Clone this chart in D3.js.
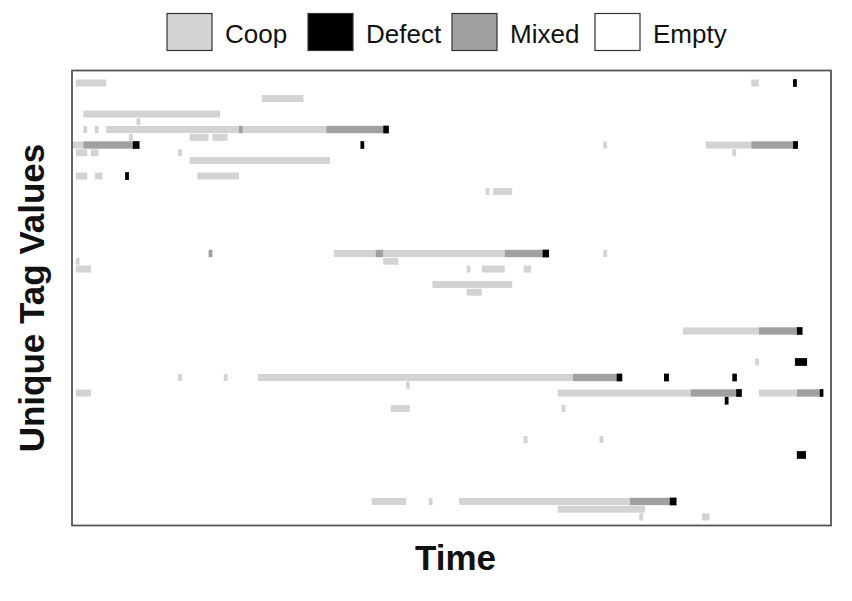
<!DOCTYPE html>
<html>
<head>
<meta charset="utf-8">
<script src="https://cdn.jsdelivr.net/npm/d3@7"></script>
<style>
  html, body { margin: 0; padding: 0; background: #fff; }
  svg { display: block; font-family: "Liberation Sans", Arial, sans-serif; }
</style>
</head>
<body>
<svg id="chart" width="852" height="601"></svg>
<script>
// ---- Data (tag row index, start time, end time) ----
const legendLabels = ["Coop", "Defect", "Mixed", "Empty"];
const stateColors = ["#d3d3d3", "#000000", "#a0a0a0", "#ffffff"];

const coopSegments = [
  [1, 1, 9], [1, 179, 181],
  [3, 50, 61],
  [5, 3, 39],
  [6, 17, 18],
  [7, 3, 4], [7, 6, 7], [7, 9, 44], [7, 45, 67],
  [8, 15, 16], [8, 31, 36], [8, 37, 41],
  [9, 0, 3], [9, 140, 141], [9, 167, 179],
  [10, 1, 4], [10, 5, 7], [10, 28, 29], [10, 174, 175],
  [11, 31, 68],
  [13, 1, 4], [13, 6, 8], [13, 33, 44],
  [15, 109, 110], [15, 111, 116],
  [23, 69, 80], [23, 82, 114], [23, 140, 141],
  [24, 1, 2], [24, 82, 86],
  [25, 1, 5], [25, 104, 105], [25, 108, 114], [25, 119, 121],
  [27, 95, 116],
  [28, 104, 108],
  [33, 161, 181],
  [37, 180, 181],
  [39, 28, 29], [39, 40, 41], [39, 49, 132],
  [40, 88, 89],
  [41, 1, 5], [41, 128, 163], [41, 181, 191],
  [43, 84, 89], [43, 129, 130],
  [47, 119, 120], [47, 139, 140],
  [55, 79, 88], [55, 94, 95], [55, 102, 147],
  [56, 128, 151],
  [57, 149.5, 150.5], [57, 166, 168]
];

const mixedSegments = [
  [7, 44, 45], [7, 67, 82],
  [9, 3, 16], [9, 179, 190],
  [23, 36, 37], [23, 80, 82], [23, 114, 124],
  [33, 181, 191],
  [39, 132, 143.5],
  [41, 163, 175], [41, 191, 197],
  [55, 147, 157.5]
];

const defectSegments = [
  [1, 190, 191],
  [7, 82, 83.5],
  [9, 16, 17.8], [9, 76, 77], [9, 190, 191.3],
  [13, 14, 15],
  [23, 124, 125.7],
  [33, 191, 192.5],
  [37, 190.5, 193.7],
  [39, 143.5, 145], [39, 156, 157.3], [39, 174, 175.2],
  [41, 175, 176.5], [41, 197, 198],
  [42, 172, 173],
  [49, 191, 193.4],
  [55, 157.5, 159.3]
];

const xTitle = "Time";
const yTitle = "Unique Tag Values";

// ---- Layout ----
const plot = { left: 72, right: 831, top: 70.5, bottom: 525.5 };
const svg = d3.select("#chart");

const x = d3.scaleLinear().domain([0, 200]).range([plot.left, plot.right]);
const y = d3.scaleLinear().domain([0, 58.6]).range([plot.top + 0.9, plot.bottom]);
const rowH = y(1) - y(0);

const layers = [
  { data: coopSegments, color: stateColors[0], h: 0.9 },
  { data: mixedSegments, color: stateColors[2], h: 0.95 },
  { data: defectSegments, color: stateColors[1], h: 1.0 }
];

const cells = svg.append("g");
layers.forEach(L => {
  cells.selectAll(null)
    .data(L.data)
    .enter()
    .append("rect")
    .attr("x", d => x(d[1]))
    .attr("width", d => Math.max(1, x(d[2]) - x(d[1])))
    .attr("y", d => y(d[0]) + rowH * (1 - L.h) / 2)
    .attr("height", rowH * L.h)
    .attr("fill", L.color);
});

// frame
svg.append("rect")
  .attr("x", plot.left)
  .attr("y", plot.top)
  .attr("width", plot.right - plot.left)
  .attr("height", plot.bottom - plot.top)
  .attr("fill", "none")
  .attr("stroke", "#555")
  .attr("stroke-width", 1.8);

// axis titles
svg.append("text")
  .attr("x", (plot.left + plot.right) / 2 + 4)
  .attr("y", 570)
  .attr("text-anchor", "middle")
  .attr("font-weight", "bold")
  .attr("font-size", 35)
  .attr("fill", "#111")
  .text(xTitle);

svg.append("text")
  .attr("transform", "translate(44,298) rotate(-90)")
  .attr("text-anchor", "middle")
  .attr("font-weight", "bold")
  .attr("font-size", 35)
  .attr("fill", "#111")
  .text(yTitle);

// legend
const legendX = [167, 308, 452, 595];
const leg = svg.append("g");
legendLabels.forEach((lab, i) => {
  leg.append("rect")
    .attr("x", legendX[i])
    .attr("y", 13.5)
    .attr("width", 45)
    .attr("height", 37)
    .attr("fill", stateColors[i])
    .attr("stroke", "#333")
    .attr("stroke-width", 1.2);
  leg.append("text")
    .attr("x", legendX[i] + 58)
    .attr("y", 43)
    .attr("font-size", 26)
    .attr("fill", "#111")
    .text(lab);
});
</script>
</body>
</html>
